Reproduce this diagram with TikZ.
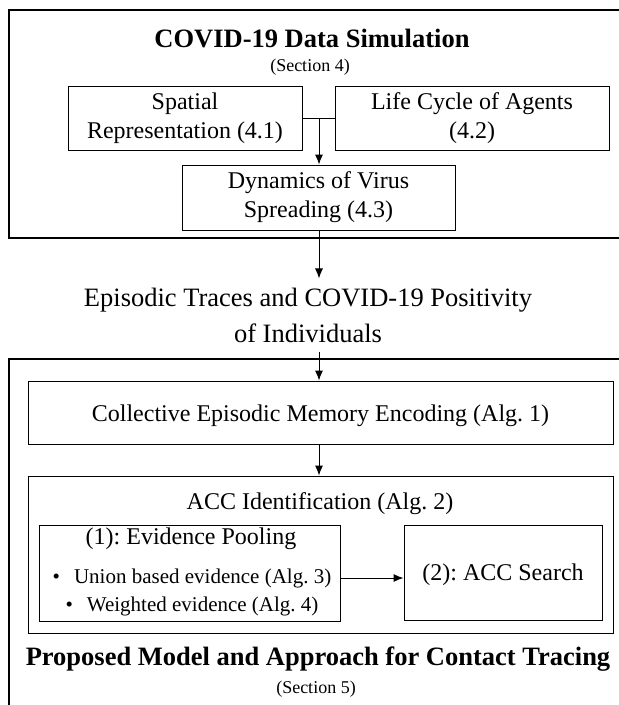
\documentclass[tikz,border=0pt]{standalone}
\usepackage{fontspec}
\setmainfont{Liberation Serif}
\usetikzlibrary{arrows.meta,positioning}
\frenchspacing
\begin{document}
\begin{tikzpicture}[x=1pt,y=-1pt, line join=miter, >={Latex[length=10pt,width=8pt]},
  box/.style={draw, line width=0.9pt, align=center, inner sep=0pt, font=\fontsize{24}{29}\selectfont},
  txt/.style={inner sep=0pt, font=\fontsize{24}{29}\selectfont},
  heading/.style={align=center, inner sep=0pt, font=\bfseries\fontsize{26.5}{30}\selectfont},
  section/.style={inner sep=0pt, font=\fontsize{18}{21}\selectfont},
  frame/.style={line width=1.2pt},
  link/.style={line width=1pt}]
\useasboundingbox (0,0) rectangle (619,705);
\clip (0,0) rectangle (619,705);
% simulation part
\draw[frame] (9,10) rectangle (640,238);
\node[heading] (simtitle) at (312,39) {COVID-19 Data Simulation};
\node[section] (simsec) at (310,67) {(Section 4)};
\node[box, minimum width=234, minimum height=64] (spatial) at (185,118) {Spatial\\Representation (4.1)};
\node[box, minimum width=274, minimum height=64] (life) at (472,118) {Life Cycle of Agents\\(4.2)};
\node[box, minimum width=273, minimum height=65] (dyn) at (318.5,197.5) {Dynamics of Virus\\Spreading (4.3)};
\coordinate (join) at (319,118);
\draw[link] (spatial.east) -- (life.west);
\draw[link,->] (join) -- (join |- dyn.north);
% traces
\node[align=center, inner xsep=0pt, inner ysep=9pt, font=\fontsize{26.5}{36}\selectfont] (traces) at (308,315) {Episodic Traces and COVID-19 Positivity\\of Individuals};
\draw[link,->] (join |- dyn.south) -- (join |- traces.north);
% model part
\draw[frame] (9,359) rectangle (640,730);
\node[box, minimum width=585, minimum height=63] (cem) at (320.5,412.5) {};
\node[txt] (cemtext) at ([yshift=-3pt]cem.center) {Collective Episodic Memory Encoding (Alg. 1)};
\node[box, minimum width=585, minimum height=157] (acc) at (320.5,554.5) {};
\node[txt] (acctitle) at (320,504) {ACC Identification (Alg. 2)};
\node[box, minimum width=301, minimum height=96] (pool) at (189.5,573) {};
\node[txt] (pooltitle) at (191,539) {(1): Evidence Pooling};
\node[inner sep=0pt, font=\fontsize{21}{25}\selectfont] (union) at (192,578) {\textbullet\hspace{14pt}Union based evidence (Alg. 3)};
\node[inner sep=0pt, font=\fontsize{21}{25}\selectfont] (weighted) at (192,606) {\textbullet\hspace{14pt}Weighted evidence (Alg. 4)};
\node[box, minimum width=198, minimum height=95] (search) at (503,572.5) {};
\node[txt] (searchtext) at ([yshift=-2pt]search.center) {(2): ACC Search};
\draw[link,->] (join |- traces.south) -- (join |- cem.north);
\draw[link,->] (join |- cem.south) -- (join |- acc.north);
\draw[link,->] (pool.east |- union) -- (search.west |- union);
\node[heading] (modtitle) at (318,659) {Proposed Model and Approach for Contact Tracing};
\node[section] (modsec) at (316,689) {(Section 5)};
\end{tikzpicture}
\end{document}
